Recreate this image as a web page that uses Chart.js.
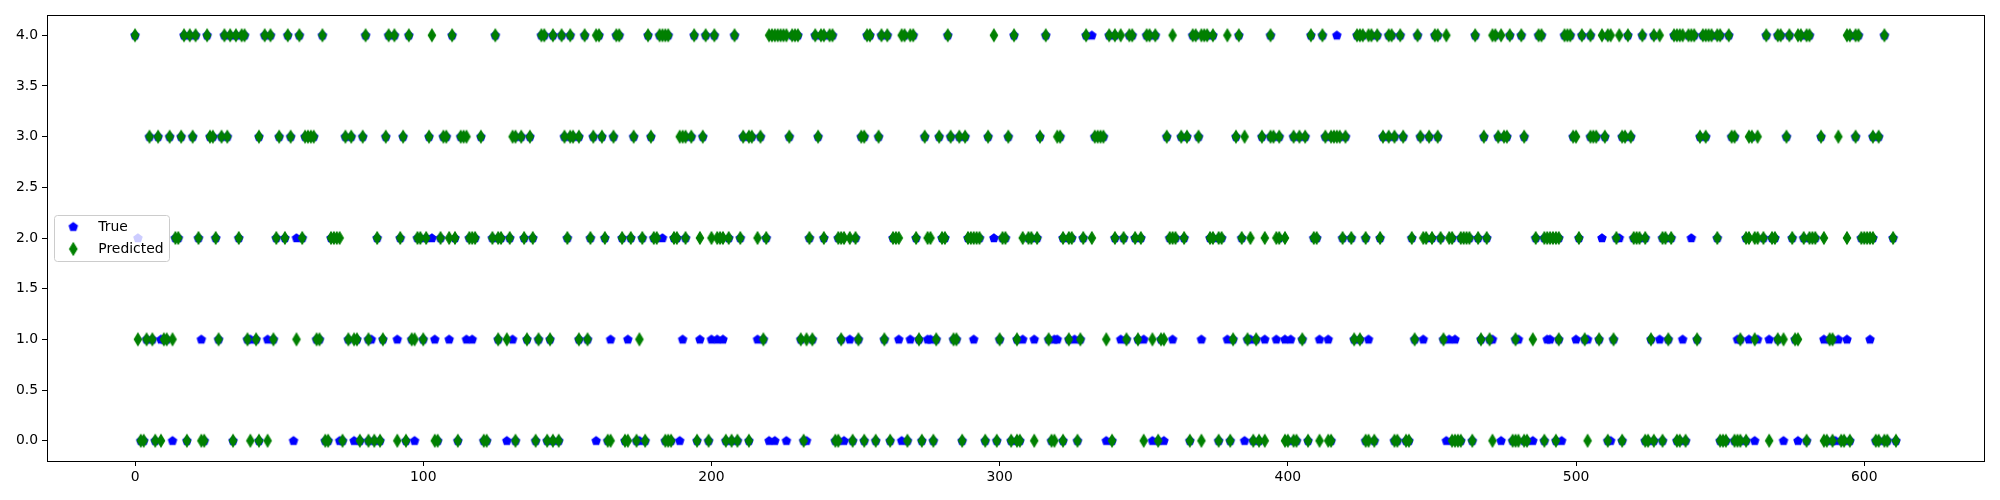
<!DOCTYPE html>
<html>
<head>
<meta charset="utf-8">
<script src="https://cdn.jsdelivr.net/npm/chart.js"></script>
<style>
  html, body { margin: 0; padding: 0; background: #fff; }
  canvas { display: block; }
</style>
</head>
<body>
<canvas id="chart" width="2000" height="500"></canvas>
<script>
/* ---------- DATA ---------- */
const classes = [0, 1, 2, 3, 4];
const xTicks = [0, 100, 200, 300, 400, 500, 600];
const yTicks = [0, 0.5, 1, 1.5, 2, 2.5, 3, 3.5, 4];
const seriesNames = ['True', 'Predicted'];

// sample indices whose predicted class is 0..4 (green diamonds)
const pred0 = [2,3,7,9,18,23,24,34,40,43,46,66,67,72,78,81,83,85,91,94,104,105,112,121,122,132,139,143,145,147,
  164,165,170,171,174,177,184,185,186,195,199,205,207,209,213,232,243,244,249,253,257,262,268,273,277,287,295,299,
  304,306,307,312,318,319,322,327,339,350,355,366,370,376,380,388,390,392,399,400,402,403,407,411,414,415,427,428,
  430,437,438,441,442,457,458,459,460,464,471,478,479,480,482,483,489,493,504,511,516,524,525,527,530,535,536,538,
  550,551,552,555,556,557,559,567,580,586,587,589,592,593,595,604,605,607,608,611];
const pred1 = [1,4,6,10,11,13,29,39,42,48,56,63,64,74,76,77,81,86,96,97,100,126,129,136,140,144,154,157,175,218,
  231,233,235,245,251,260,272,278,284,285,300,306,317,324,328,337,344,348,353,356,357,381,386,389,405,423,425,444,
  454,467,470,479,485,494,503,508,513,526,532,542,557,562,570,572,576,577,588,589];
const pred2 = [14,15,22,28,36,49,52,58,68,69,70,71,84,92,98,99,101,106,109,111,116,117,118,124,126,127,130,135,138,
  150,158,163,169,172,176,180,181,187,188,191,196,200,202,203,204,206,210,216,219,234,239,244,245,246,248,250,263,
  264,265,271,275,276,280,281,289,290,291,292,293,301,302,308,310,311,313,322,324,325,329,332,340,343,347,349,359,
  360,361,364,373,374,376,377,384,387,392,396,397,399,409,410,419,422,427,432,443,447,448,450,453,456,457,460,461,
  462,463,466,469,486,489,490,491,492,493,494,501,514,520,521,522,524,530,531,533,549,559,560,562,563,565,568,569,
  575,579,581,582,583,586,594,599,600,601,602,603,610];
const pred3 = [5,8,12,16,20,26,27,30,32,43,50,54,59,60,61,62,73,75,79,87,93,102,107,108,113,114,115,120,131,132,134,
  137,149,151,152,154,159,162,166,173,179,189,190,191,193,197,211,213,214,217,227,237,252,253,258,274,279,283,286,
  288,296,303,314,320,321,333,334,335,336,358,363,365,369,382,385,391,394,395,397,402,404,406,413,415,416,417,418,
  420,433,435,437,440,446,449,452,468,473,475,476,482,499,500,505,506,507,510,516,517,519,543,545,554,555,560,561,
  563,573,585,591,597,603,605];
const pred4 = [0,17,19,21,25,31,33,35,37,38,45,47,53,57,65,80,88,90,95,103,110,125,141,142,145,148,151,156,160,161,
  167,168,178,182,183,184,185,194,198,201,208,220,221,222,223,224,225,226,228,229,230,236,238,239,241,242,254,255,
  259,261,266,267,269,270,282,298,305,316,330,338,340,342,345,346,351,352,354,360,367,368,370,371,372,374,379,383,
  394,408,412,424,425,426,428,429,431,435,436,439,445,451,452,455,465,471,472,474,477,481,487,488,496,497,498,502,
  505,509,511,512,515,518,523,527,529,534,535,536,537,539,540,541,544,545,546,547,549,550,553,566,570,571,574,577,
  578,580,581,594,595,597,598,607];

// indices where the true class differs from the prediction (visible blue pentagons)
const true0 = [13,55,71,76,97,129,160,175,189,220,222,226,233,246,266,337,353,357,385,455,474,485,495,512,562,572,577,590];
const true1 = [9,23,40,46,82,91,104,109,115,117,131,165,171,190,196,200,202,204,216,248,265,269,275,276,291,308,312,
  319,320,326,342,350,360,370,379,387,392,396,399,401,411,414,428,447,456,458,471,480,490,491,500,504,529,537,556,
  560,563,567,586,591,594,602];
const true2 = [1,56,103,183,298,509,515,540];
const true3 = [];
const true4 = [332,417];

/* ---------- POINTS ---------- */
const predLists = [pred0, pred1, pred2, pred3, pred4];
const trueLists = [true0, true1, true2, true3, true4];
const differs = new Set(trueLists.flat());

const predictedPts = [];
const actualPts = [];
classes.forEach(c => {
  predLists[c].forEach(i => {
    predictedPts.push({ x: i, y: c });
    if (!differs.has(i)) actualPts.push({ x: i, y: c });
  });
});
classes.forEach(c => trueLists[c].forEach(i => actualPts.push({ x: i, y: c })));

/* ---------- MARKERS (matplotlib 'p' and 'd') ---------- */
function pentagon(color) {
  const c = document.createElement('canvas');
  c.width = 12; c.height = 12;
  const g = c.getContext('2d');
  const r = 4.17;
  g.beginPath();
  for (let k = 0; k < 5; k++) {
    const a = (90 + 72 * k) * Math.PI / 180;
    const px = 6 + r * Math.cos(a), py = 6.3 - r * Math.sin(a);
    k ? g.lineTo(px, py) : g.moveTo(px, py);
  }
  g.closePath();
  g.fillStyle = color; g.strokeStyle = color; g.lineWidth = 1.39; g.lineJoin = 'miter';
  g.fill(); g.stroke();
  return c;
}
function thinDiamond(color) {
  const c = document.createElement('canvas');
  c.width = 12; c.height = 16;
  const g = c.getContext('2d');
  const hw = 3.54, hh = 5.9;
  g.beginPath();
  g.moveTo(6, 8 - hh); g.lineTo(6 + hw, 8); g.lineTo(6, 8 + hh); g.lineTo(6 - hw, 8);
  g.closePath();
  g.fillStyle = color; g.strokeStyle = color; g.lineWidth = 1.39; g.lineJoin = 'miter';
  g.fill(); g.stroke();
  return c;
}
const blueMark = pentagon('#0000ff');
const greenMark = thinDiamond('#008000');

/* ---------- FRAME + LEGEND ---------- */
const framePlugin = {
  id: 'frame',
  afterDraw(chart) {
    const { ctx, chartArea: a } = chart;
    ctx.save();
    ctx.strokeStyle = '#000';
    ctx.lineWidth = 1;
    ctx.strokeRect(Math.floor(a.left) + 0.5, Math.floor(a.top) + 0.5,
      Math.floor(a.right) - Math.floor(a.left), Math.floor(a.bottom) - Math.floor(a.top));

    // legend box, like matplotlib's (white, alpha 0.8)
    const bx = 54.5, by = 215.5, bw = 115, bh = 46, rad = 3;
    ctx.beginPath();
    ctx.moveTo(bx + rad, by);
    ctx.arcTo(bx + bw, by, bx + bw, by + bh, rad);
    ctx.arcTo(bx + bw, by + bh, bx, by + bh, rad);
    ctx.arcTo(bx, by + bh, bx, by, rad);
    ctx.arcTo(bx, by, bx + bw, by, rad);
    ctx.closePath();
    ctx.fillStyle = 'rgba(255,255,255,0.8)';
    ctx.fill();
    ctx.strokeStyle = '#cccccc';
    ctx.stroke();

    const marks = [blueMark, greenMark];
    const rows = [226.7, 249];
    ctx.font = '13.9px "DejaVu Sans"';
    ctx.fillStyle = '#000';
    ctx.textBaseline = 'middle';
    ctx.textAlign = 'left';
    seriesNames.forEach((name, k) => {
      const m = marks[k];
      ctx.drawImage(m, 73.3 - m.width / 2, rows[k] - m.height / 2);
      ctx.fillText(name, 98.3, rows[k] + 0.5);
    });
    ctx.restore();
  }
};

/* ---------- CHART ---------- */
Chart.defaults.font.family = '"DejaVu Sans", sans-serif';
Chart.defaults.font.size = 13.9;
Chart.defaults.color = '#000';

const tickGrid = {
  display: true,
  drawOnChartArea: false,
  drawTicks: true,
  tickLength: 5,
  color: '#000',
  tickColor: '#000',
  lineWidth: 1
};

new Chart(document.getElementById('chart'), {
  type: 'scatter',
  data: {
    datasets: [
      {
        label: seriesNames[0],
        data: actualPts,
        pointStyle: blueMark,
        pointRadius: 5,
        pointHoverRadius: 5,
        order: 1
      },
      {
        label: seriesNames[1],
        data: predictedPts,
        pointStyle: greenMark,
        pointRadius: 5,
        pointHoverRadius: 5,
        order: 0
      }
    ]
  },
  options: {
    responsive: false,
    devicePixelRatio: 1,
    animation: false,
    events: [],
    layout: { padding: { left: 0, top: 15, right: 16, bottom: 0 } },
    plugins: {
      legend: { display: false },
      tooltip: { enabled: false }
    },
    scales: {
      x: {
        type: 'linear',
        min: -30.55,
        max: 641.55,
        grid: tickGrid,
        border: { display: false },
        ticks: { padding: 3, maxRotation: 0, autoSkip: false },
        afterBuildTicks: s => { s.ticks = xTicks.map(v => ({ value: v })); },
        afterFit: s => { s.height = 39; }
      },
      y: {
        type: 'linear',
        min: -0.2,
        max: 4.2,
        grid: tickGrid,
        border: { display: false },
        ticks: { padding: 4, autoSkip: false, callback: v => Number(v).toFixed(1) },
        afterBuildTicks: s => { s.ticks = yTicks.map(v => ({ value: v })); },
        afterFit: s => { s.width = 47; }
      }
    }
  },
  plugins: [framePlugin]
});
</script>
</body>
</html>
